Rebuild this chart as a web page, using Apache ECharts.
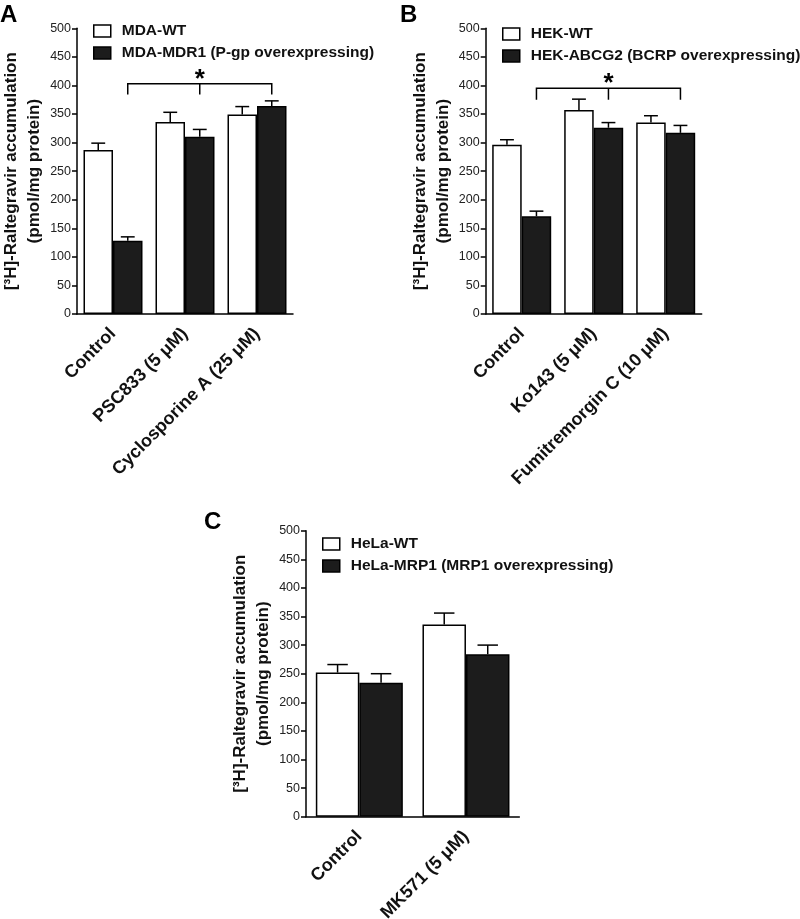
<!DOCTYPE html>
<html>
<head>
<meta charset="utf-8">
<script src="https://cdn.jsdelivr.net/npm/echarts@6/dist/echarts.min.js"></script>
<style>html,body{margin:0;padding:0;background:#fff}#c{width:800px;height:919px}</style>
</head>
<body>
<div id="c"></div>
<script>
// ---- data ----
const catsA = ['Control', 'PSC833 (5 μM)', 'Cyclosporine A (25 μM)'];
const mdaWT = [287, 336, 349];
const mdaWTErr = [12, 17, 14];
const mdaMDR1 = [128, 310, 364];
const mdaMDR1Err = [7, 13, 9];
const bracketA = [0, 2, 403, 384];

const catsB = ['Control', 'Ko143 (5 μM)', 'Fumitremorgin C (10 μM)'];
const hekWT = [296, 357, 335];
const hekWTErr = [9, 19, 12];
const hekABCG2 = [171, 326, 317];
const hekABCG2Err = [9, 9, 13];
const bracketB = [0, 2, 395, 375];

const catsC = ['Control', 'MK571 (5 μM)'];
const helaWT = [252, 336];
const helaWTErr = [14, 20];
const helaMRP1 = [234, 284];
const helaMRP1Err = [16, 16];

const yTicks = [0, 500, 50]; // min, max, interval
const yTitle = '[³H]-Raltegravir accumulation\n(pmol/mg protein)';

// ---- styles ----
const FF = 'Liberation Sans, Arial, sans-serif';
const INK = '#111';
const DARK = '#1c1c1c';

const chart = echarts.init(document.getElementById('c'), null, {renderer: 'canvas'});

const panels = [
  {grid: {left: 77, top: 28.3, width: 216, height: 285.7}, cats: catsA, barW: 29.5,
   s: [['MDA-WT', mdaWT, mdaWTErr], ['MDA-MDR1 (P-gp overexpressing)', mdaMDR1, mdaMDR1Err]],
   bracket: bracketA, legend: {left: 93, top: 23}},
  {grid: {left: 485.7, top: 28.3, width: 216, height: 285.7}, cats: catsB, barW: 29.5,
   s: [['HEK-WT', hekWT, hekWTErr], ['HEK-ABCG2 (BCRP overexpressing)', hekABCG2, hekABCG2Err]],
   bracket: bracketB, legend: {left: 502, top: 26}},
  {grid: {left: 306, top: 530.7, width: 213.3, height: 286}, cats: catsC, barW: 43.5,
   s: [['HeLa-WT', helaWT, helaWTErr], ['HeLa-MRP1 (MRP1 overexpressing)', helaMRP1, helaMRP1Err]],
   bracket: null, legend: {left: 322, top: 536}}
];

const grid = [], xAxis = [], yAxis = [], series = [], legend = [];

panels.forEach((p, i) => {
  grid.push(Object.assign({containLabel: false, outerBoundsMode: 'none'}, p.grid));
  xAxis.push({
    type: 'category', gridIndex: i, data: p.cats, boundaryGap: true,
    axisLine: {lineStyle: {color: '#000', width: 1.5}},
    axisTick: {alignWithLabel: true, length: 5, lineStyle: {color: '#000', width: 1.5}},
    axisLabel: {rotate: 45, interval: 0, margin: 17, fontFamily: FF, fontWeight: 'bold', fontSize: 18, color: INK}
  });
  yAxis.push({
    type: 'value', gridIndex: i, min: yTicks[0], max: yTicks[1], interval: yTicks[2],
    splitLine: {show: false},
    axisLine: {show: true, lineStyle: {color: '#000', width: 1.5}},
    axisTick: {show: true, length: 5, lineStyle: {color: '#000', width: 1.5}},
    axisLabel: {margin: 6, fontFamily: FF, fontSize: 12.5, color: '#222'},
    name: yTitle, nameLocation: 'middle', nameRotate: 90, nameGap: 30,
    nameTextStyle: {fontFamily: FF, fontWeight: 'bold', fontSize: 17, color: INK, lineHeight: 23, align: 'center'}
  });
  p.s.forEach((s, k) => {
    const fill = k === 0 ? '#fff' : DARK;
    series.push({
      type: 'bar', name: s[0], xAxisIndex: i, yAxisIndex: i, data: s[1],
      barWidth: p.barW, barGap: '0%',
      itemStyle: {color: fill, borderColor: '#000', borderWidth: 1.5},
      emphasis: {disabled: true}, silent: true
    });
  });
  p.s.forEach((s, k) => {
    const off = (k === 0 ? -1 : 1) * p.barW / 2;
    const cap = p.barW * 0.47;
    series.push({
      type: 'custom', xAxisIndex: i, yAxisIndex: i, silent: true, z: 5,
      data: s[1].map((v, j) => [j, v, s[2][j]]),
      encode: {x: 0, y: 1},
      renderItem: function (params, api) {
        const c = api.value(0), v = api.value(1), e = api.value(2);
        const b = api.coord([c, v]);
        const t = api.coord([c, v + e]);
        const x = b[0] + off;
        const st = {stroke: '#000', lineWidth: 1.5};
        return {type: 'group', children: [
          {type: 'line', shape: {x1: x, y1: b[1], x2: x, y2: t[1]}, style: st},
          {type: 'line', shape: {x1: x - cap / 2, y1: t[1], x2: x + cap / 2, y2: t[1]}, style: st}
        ]};
      }
    });
  });
  if (p.bracket) {
    const bw = p.barW;
    series.push({
      type: 'custom', xAxisIndex: i, yAxisIndex: i, silent: true, z: 6,
      data: [p.bracket],
      encode: {x: 0, y: 2},
      renderItem: function (params, api) {
        const a = api.coord([api.value(0), api.value(2)]);
        const b = api.coord([api.value(1), api.value(2)]);
        const lo = api.coord([api.value(0), api.value(3)]);
        const x1 = a[0] + bw / 2, x2 = b[0] + bw / 2, y = a[1], yb = lo[1];
        const xm = (x1 + x2) / 2;
        const st = {stroke: '#000', lineWidth: 1.5, fill: null};
        return {type: 'group', children: [
          {type: 'polyline', shape: {points: [[x1, yb], [x1, y], [x2, y], [x2, yb]]}, style: st},
          {type: 'line', shape: {x1: xm, y1: y, x2: xm, y2: yb}, style: st},
          {type: 'text', x: xm, y: y + 9, style: {text: '*', fontFamily: FF, fontWeight: 'bold', fontSize: 26, fill: '#000', align: 'center', verticalAlign: 'bottom'}}
        ]};
      }
    });
  }
  legend.push({
    data: p.s.map(s => s[0]), left: p.legend.left, top: p.legend.top, orient: 'vertical',
    padding: 0,
    icon: 'rect', itemWidth: 17, itemHeight: 12, itemGap: 6, selectedMode: false,
    itemStyle: {borderColor: '#000', borderWidth: 1.5},
    textStyle: {fontFamily: FF, fontWeight: 'bold', fontSize: 15.5, color: INK, padding: [0, 0, 0, 6]}
  });
});

chart.setOption({
  animation: false,
  backgroundColor: '#fff',
  grid, xAxis, yAxis, series, legend,
  graphic: [
    {type: 'text', left: 0, top: 3, style: {text: 'A', fontFamily: FF, fontWeight: 'bold', fontSize: 24, fill: '#000'}},
    {type: 'text', left: 400, top: 3, style: {text: 'B', fontFamily: FF, fontWeight: 'bold', fontSize: 24, fill: '#000'}},
    {type: 'text', left: 204, top: 510, style: {text: 'C', fontFamily: FF, fontWeight: 'bold', fontSize: 24, fill: '#000'}}
  ]
});
</script>
</body>
</html>
